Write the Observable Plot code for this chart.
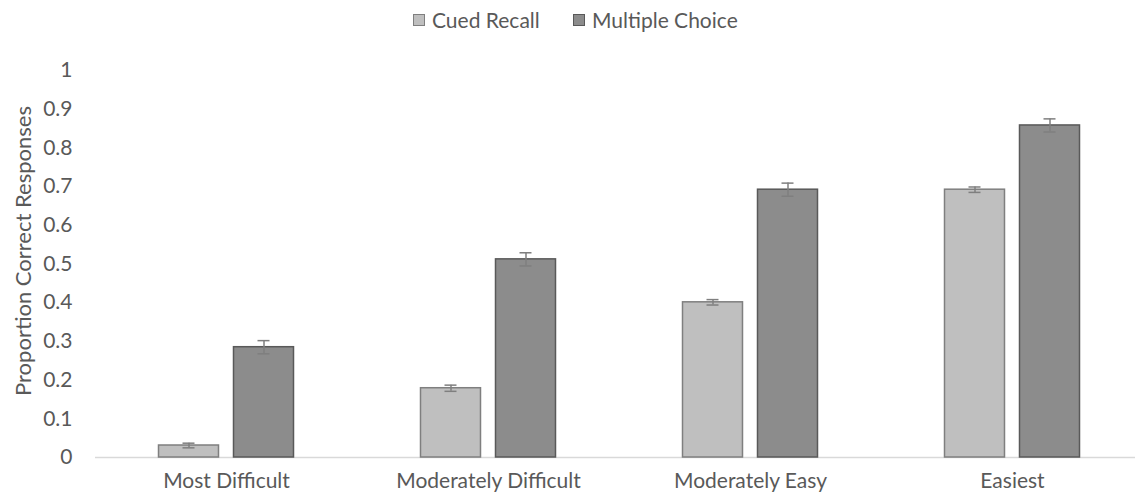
<!DOCTYPE html>
<html>
<head>
<meta charset="utf-8">
<script src="https://cdn.jsdelivr.net/npm/d3@7"></script>
<script src="https://cdn.jsdelivr.net/npm/@observablehq/plot@0.6"></script>
<style>
  html, body { margin: 0; padding: 0; background: #fff; overflow: hidden; }
  #legend { height: 40px; position: relative; font-family: Lato, "Open Sans", sans-serif; font-size: 21px; color: #595959; }
  .item { position: absolute; top: 7px; display: flex; align-items: center; }
  .sw { width: 12px; height: 12px; margin-right: 7px; box-sizing: border-box; }
</style>
</head>
<body>
<div id="legend">
  <div class="item" style="left:413px"><div class="sw" style="background:#bfbfbf;border:1.5px solid #7f7f7f"></div><span>Cued Recall</span></div>
  <div class="item" style="left:573px"><div class="sw" style="background:#8c8c8c;border:1.5px solid #595959"></div><span>Multiple Choice</span></div>
</div>
<div id="chart"></div>
<script>
const categories = ["Most Difficult", "Moderately Difficult", "Moderately Easy", "Easiest"];
const cuedRecall = [0.031, 0.179, 0.401, 0.692];
const cuedRecallErr = [0.006, 0.008, 0.007, 0.007];
const multipleChoice = [0.285, 0.512, 0.692, 0.858];
const multipleChoiceErr = [0.017, 0.017, 0.017, 0.017];
const yTicks = [0, 0.1, 0.2, 0.3, 0.4, 0.5, 0.6, 0.7, 0.8, 0.9, 1];

const cr = categories.map((c, i) => ({cat: c, v: cuedRecall[i], e: cuedRecallErr[i]}));
const mc = categories.map((c, i) => ({cat: c, v: multipleChoice[i], e: multipleChoiceErr[i]}));

const half = 131; // half bandwidth
const chart = Plot.plot({
  width: 1135,
  height: 459,
  marginTop: 30,
  marginBottom: 42,
  marginLeft: 95,
  marginRight: 0,
  style: {fontFamily: "Lato, 'Open Sans', sans-serif", color: "#595959", background: "#fff"},
  x: {domain: categories, range: [95, 1143], padding: 0, label: null},
  y: {domain: [0, 1], ticks: yTicks, label: null},
  marks: [
    Plot.ruleY([0], {stroke: "#d9d9d9", strokeWidth: 1.5}),
    Plot.barY(cr, {x: "cat", y: "v", fill: "#bfbfbf", stroke: "#7f7f7f", strokeWidth: 1.5, insetLeft: half - 67.5, insetRight: half + 7.5}),
    Plot.barY(mc, {x: "cat", y: "v", fill: "#8c8c8c", stroke: "#595959", strokeWidth: 1.5, insetLeft: half + 7.5, insetRight: half - 67.5}),
    Plot.ruleX(cr, {x: "cat", y1: d => d.v - d.e, y2: d => d.v + d.e, dx: -37.5, stroke: "#7f7f7f", strokeWidth: 1.5}),
    Plot.ruleX(mc, {x: "cat", y1: d => d.v - d.e, y2: d => d.v + d.e, dx: 37.5, stroke: "#7f7f7f", strokeWidth: 1.5}),
    Plot.tickY(cr, {x: "cat", y: d => d.v - d.e, dx: -37.5, stroke: "#7f7f7f", strokeWidth: 1.5, inset: half - 6}),
    Plot.tickY(cr, {x: "cat", y: d => d.v + d.e, dx: -37.5, stroke: "#7f7f7f", strokeWidth: 1.5, inset: half - 6}),
    Plot.tickY(mc, {x: "cat", y: d => d.v - d.e, dx: 37.5, stroke: "#7f7f7f", strokeWidth: 1.5, inset: half - 6}),
    Plot.tickY(mc, {x: "cat", y: d => d.v + d.e, dx: 37.5, stroke: "#7f7f7f", strokeWidth: 1.5, inset: half - 6}),
    Plot.axisY({ticks: yTicks, tickSize: 0, tickPadding: 23, fontSize: 21, tickFormat: d3.format("~g"), label: null}),
    Plot.axisX({tickSize: 0, tickPadding: 16, fontSize: 21, label: null}),
    Plot.text(["Proportion Correct Responses"], {frameAnchor: "left", textAnchor: "middle", dx: -72, dy: -13, rotate: -90, fontSize: 22, fill: "#595959"})
  ]
});
document.getElementById("chart").appendChild(chart);
</script>
</body>
</html>
